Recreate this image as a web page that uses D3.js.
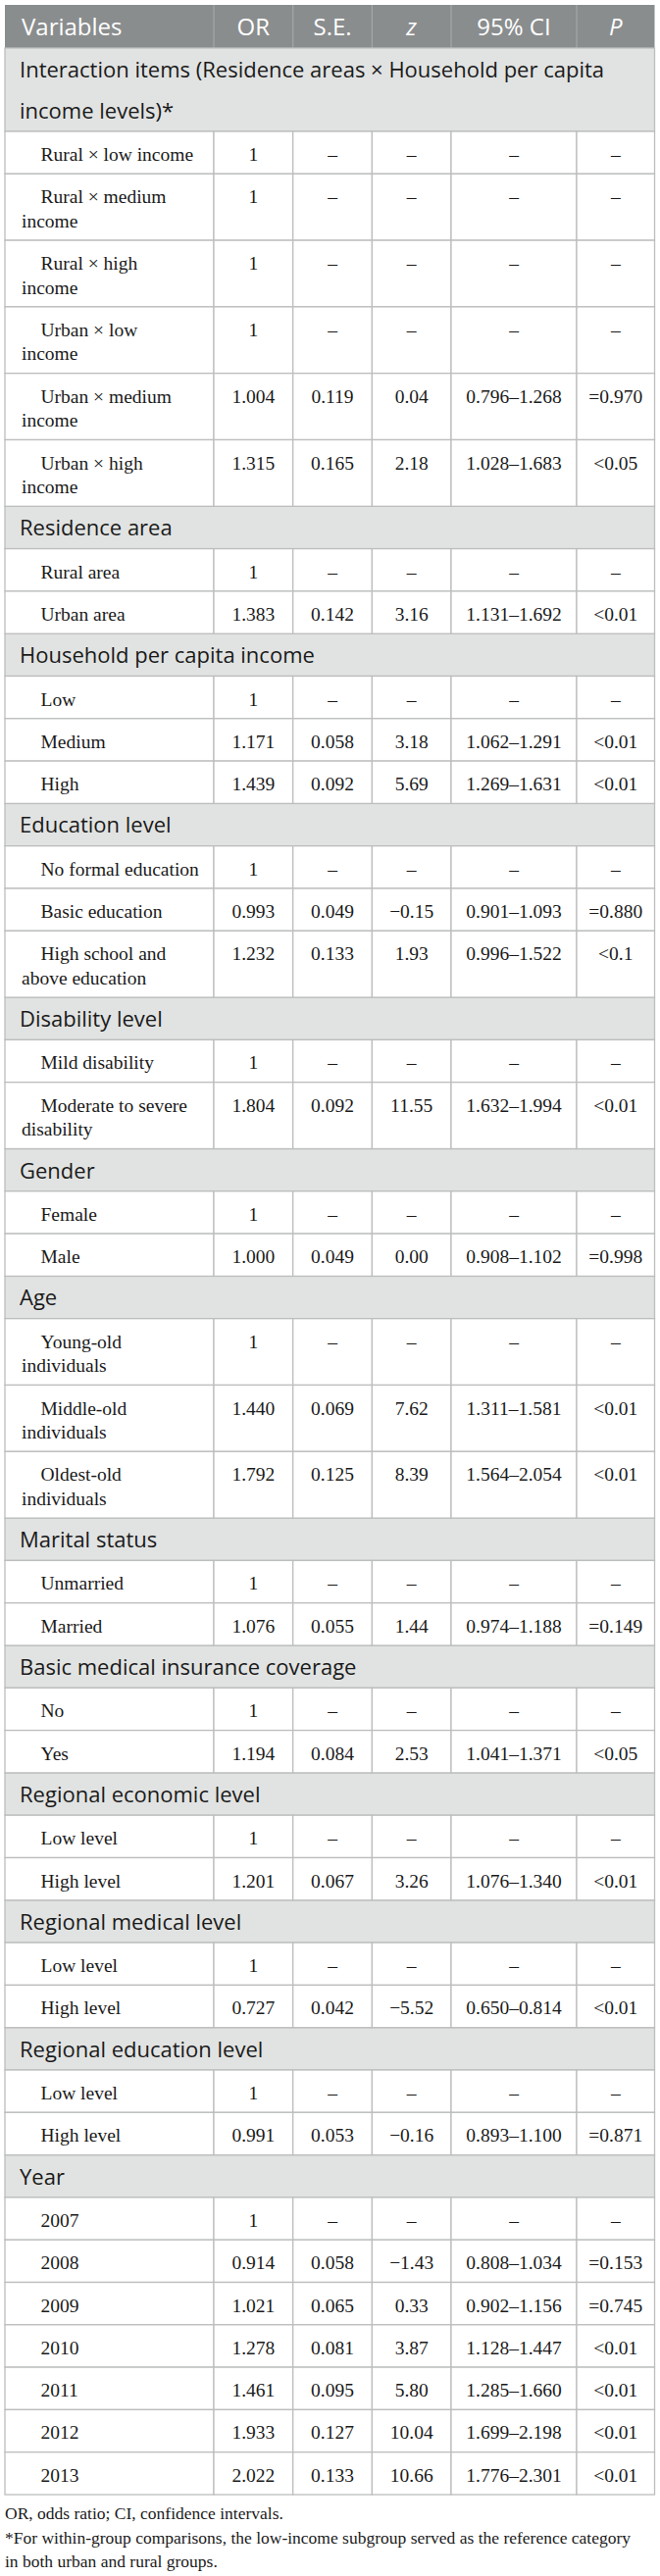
<!DOCTYPE html>
<html>
<head>
<meta charset="utf-8">
<script src="https://cdn.jsdelivr.net/npm/d3@7"></script>
<style>
  body { margin: 0; background: #fff; }
</style>
</head>
<body>
<div id="table"></div>
<script>
// table content
const headers = ["Variables", "OR", "S.E.", "z", "95% CI", "P"];
const sections = [
  "Interaction items (Residence areas × Household per capita\nincome levels)*",
  "Residence area",
  "Household per capita income",
  "Education level",
  "Disability level",
  "Gender",
  "Age",
  "Marital status",
  "Basic medical insurance coverage",
  "Regional economic level",
  "Regional medical level",
  "Regional education level",
  "Year"
];
const sectionSizes = [6, 2, 3, 3, 2, 2, 3, 2, 2, 2, 2, 2, 7];
const rowLabels = [
  "Rural × low income", "Rural × medium\nincome", "Rural × high\nincome",
  "Urban × low\nincome", "Urban × medium\nincome", "Urban × high\nincome",
  "Rural area", "Urban area",
  "Low", "Medium", "High",
  "No formal education", "Basic education", "High school and\nabove education",
  "Mild disability", "Moderate to severe\ndisability",
  "Female", "Male",
  "Young-old\nindividuals", "Middle-old\nindividuals", "Oldest-old\nindividuals",
  "Unmarried", "Married",
  "No", "Yes",
  "Low level", "High level",
  "Low level", "High level",
  "Low level", "High level",
  "2007", "2008", "2009", "2010", "2011", "2012", "2013"
];
const orValues = [1, 1, 1, 1, 1.004, 1.315, 1, 1.383, 1, 1.171, 1.439, 1, 0.993, 1.232,
  1, 1.804, 1, 1.000, 1, 1.440, 1.792, 1, 1.076, 1, 1.194, 1, 1.201, 1, 0.727, 1, 0.991,
  1, 0.914, 1.021, 1.278, 1.461, 1.933, 2.022];
const seValues = [null, null, null, null, 0.119, 0.165, null, 0.142, null, 0.058, 0.092, null, 0.049, 0.133,
  null, 0.092, null, 0.049, null, 0.069, 0.125, null, 0.055, null, 0.084, null, 0.067, null, 0.042, null, 0.053,
  null, 0.058, 0.065, 0.081, 0.095, 0.127, 0.133];
const zValues = [null, null, null, null, 0.04, 2.18, null, 3.16, null, 3.18, 5.69, null, -0.15, 1.93,
  null, 11.55, null, 0.00, null, 7.62, 8.39, null, 1.44, null, 2.53, null, 3.26, null, -5.52, null, -0.16,
  null, -1.43, 0.33, 3.87, 5.80, 10.04, 10.66];
const ciLow = [null, null, null, null, 0.796, 1.028, null, 1.131, null, 1.062, 1.269, null, 0.901, 0.996,
  null, 1.632, null, 0.908, null, 1.311, 1.564, null, 0.974, null, 1.041, null, 1.076, null, 0.650, null, 0.893,
  null, 0.808, 0.902, 1.128, 1.285, 1.699, 1.776];
const ciHigh = [null, null, null, null, 1.268, 1.683, null, 1.692, null, 1.291, 1.631, null, 1.093, 1.522,
  null, 1.994, null, 1.102, null, 1.581, 2.054, null, 1.188, null, 1.371, null, 1.340, null, 0.814, null, 1.100,
  null, 1.034, 1.156, 1.447, 1.660, 2.198, 2.301];
const pValues = [null, null, null, null, "=0.970", "<0.05", null, "<0.01", null, "<0.01", "<0.01", null, "=0.880", "<0.1",
  null, "<0.01", null, "=0.998", null, "<0.01", "<0.01", null, "=0.149", null, "<0.05", null, "<0.01", null, "<0.01", null, "=0.871",
  null, "=0.153", "=0.745", "<0.01", "<0.01", "<0.01", "<0.01"];
const footnotes = [
  "OR, odds ratio; CI, confidence intervals.",
  "*For within-group comparisons, the low-income subgroup served as the reference category",
  "in both urban and rural groups."
];

const draw = (elSelector) => {
  const width = 673;
  const height = 2627;
  const colEdges = [5, 218, 298.7, 379.4, 460, 588, 667.5];
  const lineH = 24.5;
  const singleH = 43.3;
  const headerH = 44;

  const sans = "'Open Sans', sans-serif";
  const serif = "'Liberation Serif', 'Times New Roman', serif";

  const fmt3 = d3.format(".3f");
  const fmt2 = d3.format(".2f");

  const svg = d3
    .select(elSelector)
    .append("svg")
    .attr("width", width)
    .attr("height", height);

  // build the list of rows: header, section headers, body rows
  const items = [{ type: "header", h: headerH }];
  let r = 0;
  sections.forEach((s, i) => {
    const lines = s.split("\n");
    items.push({ type: "section", lines, h: lines.length > 1 ? 85 : singleH });
    for (let k = 0; k < sectionSizes[i]; k++, r++) {
      const lab = rowLabels[r].split("\n");
      const isRef = seValues[r] === null;
      items.push({
        type: "row",
        lines: lab,
        h: lab.length > 1 ? 67.8 : singleH,
        cells: isRef
          ? [String(orValues[r]), "–", "–", "–", "–"]
          : [fmt3(orValues[r]), fmt3(seValues[r]), fmt2(zValues[r]),
             fmt3(ciLow[r]) + "–" + fmt3(ciHigh[r]), pValues[r]]
      });
    }
  });
  let y = 5;
  items.forEach((d) => { d.y = y; y += d.h; });
  const tableBottom = y;

  const colX = (i) => colEdges[i];
  const colMid = (i) => (colEdges[i] + colEdges[i + 1]) / 2;

  // header
  const head = items[0];
  svg.append("rect")
    .attr("x", colX(0)).attr("y", head.y)
    .attr("width", colX(6) - colX(0)).attr("height", head.h)
    .attr("fill", "#8a8d8e");
  for (let i = 1; i < 6; i++) {
    svg.append("line")
      .attr("x1", colX(i)).attr("x2", colX(i))
      .attr("y1", head.y).attr("y2", head.y + head.h)
      .attr("stroke", "#a4a7a8").attr("stroke-width", 1.2);
  }
  svg.selectAll(".hd")
    .data(headers)
    .join("text")
    .attr("class", "hd")
    .attr("x", (d, i) => (i === 0 ? 22 : colMid(i)))
    .attr("y", head.y + 31)
    .attr("text-anchor", (d, i) => (i === 0 ? "start" : "middle"))
    .attr("font-family", sans)
    .attr("font-size", 24)
    .attr("font-style", (d) => (d === "z" || d === "P" ? "italic" : "normal"))
    .attr("fill", "#fff")
    .text((d) => d);

  // section rows
  const secs = items.filter((d) => d.type === "section");
  const secG = svg.selectAll(".sec").data(secs).join("g").attr("class", "sec");
  secG.append("rect")
    .attr("x", colX(0)).attr("y", (d) => d.y)
    .attr("width", colX(6) - colX(0)).attr("height", (d) => d.h)
    .attr("fill", "#e1e3e2")
    .attr("stroke", "#bcbebd").attr("stroke-width", 1.3);
  secG.each(function (d) {
    d3.select(this).selectAll("text")
      .data(d.lines)
      .join("text")
      .attr("x", 20)
      .attr("y", (l, j) => d.y + 30 + j * 42)
      .attr("font-family", sans)
      .attr("font-size", 22)
      .attr("fill", "#1a1a1a")
      .text((l) => l);
  });

  // body rows
  const rows = items.filter((d) => d.type === "row");
  const rowG = svg.selectAll(".row").data(rows).join("g").attr("class", "row");
  rowG.each(function (d) {
    const g = d3.select(this);
    g.selectAll("rect")
      .data(d3.range(6))
      .join("rect")
      .attr("x", (i) => colX(i)).attr("y", d.y)
      .attr("width", (i) => colX(i + 1) - colX(i)).attr("height", d.h)
      .attr("fill", "#fff")
      .attr("stroke", "#bcbebd").attr("stroke-width", 1.3);
    g.selectAll(".lab")
      .data(d.lines)
      .join("text")
      .attr("class", "lab")
      .attr("x", (l, j) => (j === 0 ? 41.5 : 22))
      .attr("y", (l, j) => d.y + 30 + j * lineH)
      .attr("font-family", serif)
      .attr("font-size", 19.5)
      .attr("fill", "#1a1a1a")
      .text((l) => l);
    g.selectAll(".val")
      .data(d.cells)
      .join("text")
      .attr("class", "val")
      .attr("x", (c, i) => colMid(i + 1))
      .attr("y", d.y + 30)
      .attr("text-anchor", "middle")
      .attr("font-family", serif)
      .attr("font-size", 19.5)
      .attr("fill", "#1a1a1a")
      .text((c) => c);
  });

  // footnotes
  svg.selectAll(".foot")
    .data(footnotes)
    .join("text")
    .attr("class", "foot")
    .attr("x", 5)
    .attr("y", (d, i) => tableBottom + 25 + i * 24.5)
    .attr("font-family", serif)
    .attr("font-size", 17.5)
    .attr("fill", "#1a1a1a")
    .text((d) => d);
};

draw("#table");
</script>
</body>
</html>
